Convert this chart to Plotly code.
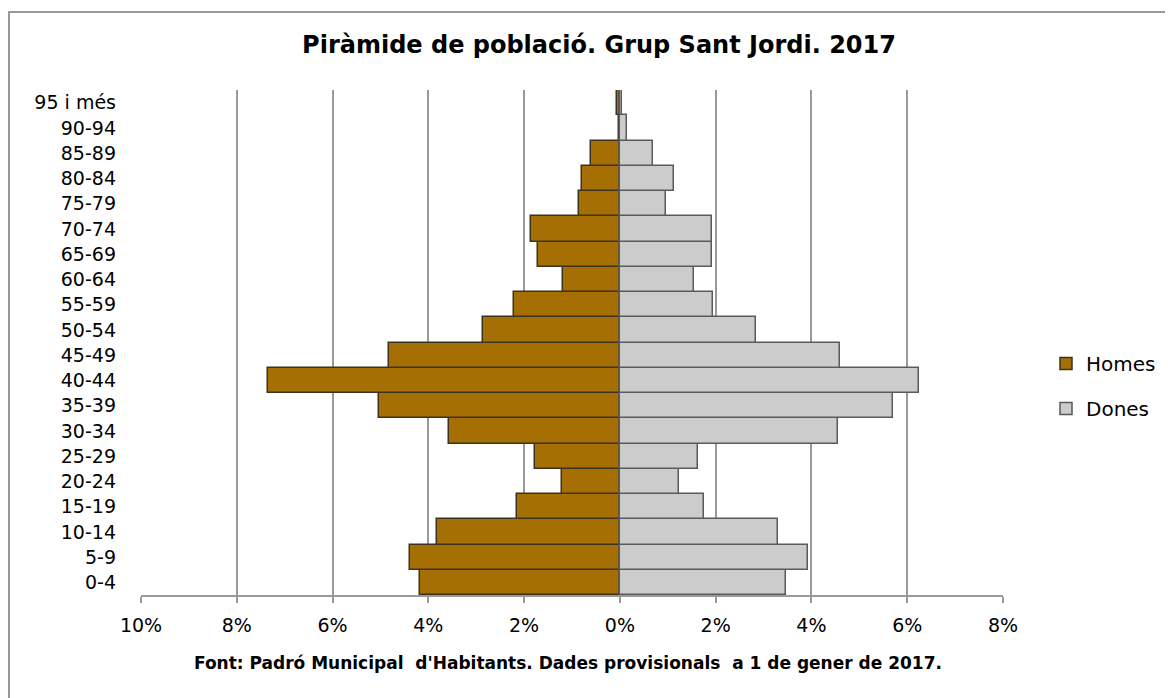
import plotly.graph_objects as go

age_groups = ["0-4", "5-9", "10-14", "15-19", "20-24", "25-29", "30-34", "35-39",
              "40-44", "45-49", "50-54", "55-59", "60-64", "65-69", "70-74", "75-79",
              "80-84", "85-89", "90-94", "95 i més"]
homes = [4.17, 4.38, 3.82, 2.15, 1.21, 1.77, 3.57, 5.03, 7.35, 4.82, 2.86, 2.21,
         1.19, 1.71, 1.86, 0.85, 0.80, 0.60, 0.02, 0.06]
dones = [3.47, 3.92, 3.30, 1.75, 1.23, 1.64, 4.56, 5.70, 6.25, 4.60, 2.85, 1.94,
         1.54, 1.92, 1.92, 0.96, 1.12, 0.70, 0.15, 0.05]
tick_vals = [-10, -8, -6, -4, -2, 0, 2, 4, 6, 8]
tick_text = ["10%", "8%", "6%", "4%", "2%", "0%", "2%", "4%", "6%", "8%"]

title_text = "Piràmide de població. Grup Sant Jordi. 2017"
source_text = "Font: Padró Municipal  d'Habitants. Dades provisionals  a 1 de gener de 2017."

W, H = 1173, 698
ML, MT, PW, PH = 133, 82, 862, 505

fig = go.Figure()
fig.add_trace(go.Bar(
    y=age_groups, x=[-v for v in homes], orientation="h", name="Homes",
    marker=dict(color="#A66F03", line=dict(color="#3b3320", width=1.5)),
    legendgroup="h",
))
fig.add_trace(go.Bar(
    y=age_groups, x=dones, orientation="h", name="Dones",
    marker=dict(color="#CCCCCC", line=dict(color="#5a5a5a", width=1.5)),
    legendgroup="d",
))

fig.update_layout(
    width=W, height=H,
    barmode="relative", bargap=0,
    paper_bgcolor="white", plot_bgcolor="white",
    margin=dict(l=ML, r=W - ML - PW, t=MT, b=H - MT - PH),
    font=dict(family="DejaVu Sans", size=20, color="black"),
    title=dict(text="<b>" + title_text + "</b>", x=591 / W, xanchor="center",
               y=1 - 37 / H, yanchor="middle",
               font=dict(family="DejaVu Sans", size=24, color="black")),
    xaxis=dict(range=[-10, 8], tickvals=tick_vals, ticktext=tick_text,
               showgrid=True, gridcolor="#999999", gridwidth=2,
               zeroline=True, zerolinecolor="black", zerolinewidth=2,
               showline=True, linecolor="#999999", linewidth=2,
               ticks="outside", tickcolor="#999999", ticklen=6, tickwidth=2,
               ticklabelstandoff=6, tickfont=dict(size=19)),
    yaxis=dict(showgrid=False, ticks="", ticklabelstandoff=24,
               tickfont=dict(size=19), showline=False),
    legend=dict(x=(1038 - ML) / PW, y=1 - (378 - MT) / PH, xanchor="left", yanchor="middle",
                tracegroupgap=16, font=dict(size=20), itemwidth=30,
                bgcolor="rgba(0,0,0,0)"),
    showlegend=True,
)

fig.add_annotation(text="<b>" + source_text + "</b>", xref="paper", yref="paper",
                   x=(560 - ML) / PW, y=-(655 - (MT + PH)) / PH, xanchor="center",
                   yanchor="middle", showarrow=False,
                   font=dict(family="DejaVu Sans", size=17, color="black"))

fig.add_shape(type="rect", xref="paper", yref="paper",
              x0=(1 - ML) / PW, x1=1.4, y0=-0.4, y1=1 + (MT - 4) / PH,
              line=dict(color="#999999", width=2), layer="below")

fig.write_html("out.html")
